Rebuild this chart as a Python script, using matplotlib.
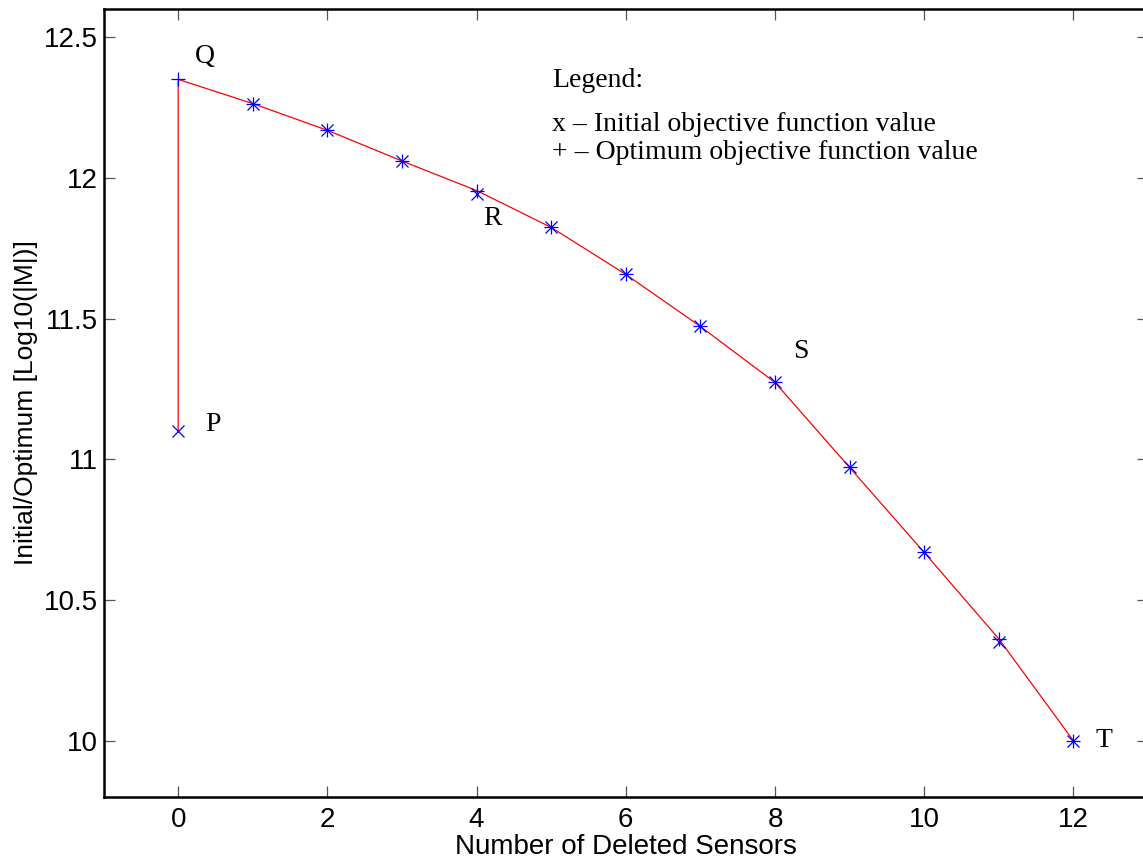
import matplotlib
matplotlib.use('Agg')
import matplotlib.pyplot as plt
from matplotlib.ticker import FormatStrFormatter

# data
sensors = [0, 1, 2, 3, 4, 5, 6, 7, 8, 9, 10, 11, 12]
initial = [11.10, 12.264, 12.169, 12.06, 11.942, 11.824, 11.657, 11.472, 11.273, 10.971, 10.669, 10.350, 10.00]
optimum = [12.35, 12.264, 12.169, 12.06, 11.955, 11.824, 11.657, 11.472, 11.273, 10.971, 10.669, 10.362, 10.00]

point_names = ['P', 'Q', 'R', 'S', 'T']
legend_lines = ['Legend:', 'x \u2013 Initial objective function value',
                '+ \u2013 Optimum objective function value']

SANS = ['Liberation Sans', 'DejaVu Sans']
SERIF = ['Liberation Serif', 'DejaVu Serif']

fig = plt.figure(figsize=(11.43, 8.67), dpi=100)
ax = fig.add_axes([0.0906, 0.0807, 0.9138, 0.9089])

# path: initial at 0 up to optimum at 0, then along the optimum values
path_x = [sensors[0]] + sensors
path_y = [initial[0]] + optimum
ax.plot(path_x, path_y, color='#ff0000', lw=0.9, zorder=1)
ax.plot(sensors, initial, linestyle='none', marker='x', color='#0000ff',
        markersize=8.5, markeredgewidth=0.9, zorder=2)
ax.plot(sensors, optimum, linestyle='none', marker='+', color='#0000ff',
        markersize=10, markeredgewidth=0.9, zorder=2)

# point labels P, Q, R, S, T
label_at = [(0, initial[0], 0.36, 0.025),
            (0, optimum[0], 0.23, 0.08),
            (4, initial[4], 0.09, -0.086),
            (8, optimum[8], 0.24, 0.11),
            (12, optimum[12], 0.30, 0.0)]
for name, (xi, yi, dx, dy) in zip(point_names, label_at):
    ax.text(xi + dx, yi + dy, name, family=SERIF, fontsize=20,
            ha='left', va='center')

ax.text(5.01, 12.347, legend_lines[0], family=SERIF, fontsize=20, va='center')
ax.text(5.01, 12.19, legend_lines[1], family=SERIF, fontsize=20, va='center')
ax.text(5.01, 12.09, legend_lines[2], family=SERIF, fontsize=20, va='center')

ax.set_xlim(-1, 13)
ax.set_ylim(9.8, 12.6)
ax.set_xticks(range(0, 13, 2))
ax.set_yticks([10, 10.5, 11, 11.5, 12, 12.5])
ax.yaxis.set_major_formatter(FormatStrFormatter('%g'))

ax.tick_params(direction='in', length=8, width=0.9, color='#555555',
               labelsize=20, top=True, right=True)
ax.tick_params(axis='x', pad=7)
ax.tick_params(axis='y', pad=4)
for lbl in ax.get_xticklabels() + ax.get_yticklabels():
    lbl.set_family(SANS)

for s in ax.spines.values():
    s.set_linewidth(1.8)
ax.spines['right'].set_visible(False)

ax.set_xlabel('Number of Deleted Sensors', family=SANS, fontsize=20, labelpad=1)
ax.set_ylabel('Initial/Optimum [Log10(|M|)]', family=SANS, fontsize=19, labelpad=4)

fig.savefig('out.png', dpi=100)
